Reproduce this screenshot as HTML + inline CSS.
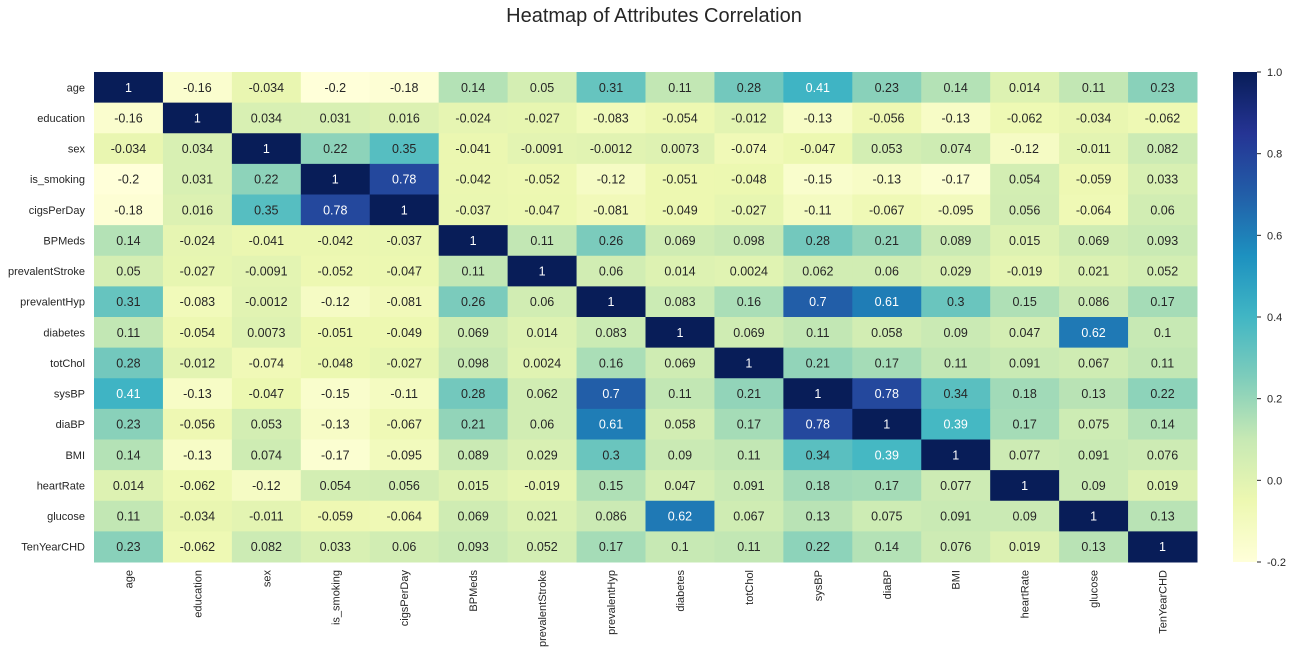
<!DOCTYPE html>
<html><head><meta charset="utf-8"><style>
body{margin:0;background:#fff;font-family:"Liberation Sans",sans-serif;}
svg text{font-family:"Liberation Sans",sans-serif;}
</style></head><body>
<svg id="chart" width="1295" height="655" xmlns="http://www.w3.org/2000/svg">
<text x="654" y="22" font-size="20" text-anchor="middle" fill="#262626">Heatmap of Attributes Correlation</text>
<g id="cells"></g>
<g id="ylab"></g>
<g id="xlab"></g>
<defs><linearGradient id="cg" x1="0" y1="1" x2="0" y2="0"></linearGradient></defs>
<rect x="1233" y="72" width="24" height="490" fill="url(#cg)"/>
<g id="cbticks"></g>
</svg>
<script>
const labels=["age","education","sex","is_smoking","cigsPerDay","BPMeds","prevalentStroke","prevalentHyp","diabetes","totChol","sysBP","diaBP","BMI","heartRate","glucose","TenYearCHD"];
const row0=[1,-0.16,-0.034,-0.2,-0.18,0.14,0.05,0.31,0.11,0.28,0.41,0.23,0.14,0.014,0.11,0.23];
const row1=[-0.16,1,0.034,0.031,0.016,-0.024,-0.027,-0.083,-0.054,-0.012,-0.13,-0.056,-0.13,-0.062,-0.034,-0.062];
const row2=[-0.034,0.034,1,0.22,0.35,-0.041,-0.0091,-0.0012,0.0073,-0.074,-0.047,0.053,0.074,-0.12,-0.011,0.082];
const row3=[-0.2,0.031,0.22,1,0.78,-0.042,-0.052,-0.12,-0.051,-0.048,-0.15,-0.13,-0.17,0.054,-0.059,0.033];
const row4=[-0.18,0.016,0.35,0.78,1,-0.037,-0.047,-0.081,-0.049,-0.027,-0.11,-0.067,-0.095,0.056,-0.064,0.06];
const row5=[0.14,-0.024,-0.041,-0.042,-0.037,1,0.11,0.26,0.069,0.098,0.28,0.21,0.089,0.015,0.069,0.093];
const row6=[0.05,-0.027,-0.0091,-0.052,-0.047,0.11,1,0.06,0.014,0.0024,0.062,0.06,0.029,-0.019,0.021,0.052];
const row7=[0.31,-0.083,-0.0012,-0.12,-0.081,0.26,0.06,1,0.083,0.16,0.7,0.61,0.3,0.15,0.086,0.17];
const row8=[0.11,-0.054,0.0073,-0.051,-0.049,0.069,0.014,0.083,1,0.069,0.11,0.058,0.09,0.047,0.62,0.1];
const row9=[0.28,-0.012,-0.074,-0.048,-0.027,0.098,0.0024,0.16,0.069,1,0.21,0.17,0.11,0.091,0.067,0.11];
const row10=[0.41,-0.13,-0.047,-0.15,-0.11,0.28,0.062,0.7,0.11,0.21,1,0.78,0.34,0.18,0.13,0.22];
const row11=[0.23,-0.056,0.053,-0.13,-0.067,0.21,0.06,0.61,0.058,0.17,0.78,1,0.39,0.17,0.075,0.14];
const row12=[0.14,-0.13,0.074,-0.17,-0.095,0.089,0.029,0.3,0.09,0.11,0.34,0.39,1,0.077,0.091,0.076];
const row13=[0.014,-0.062,-0.12,0.054,0.056,0.015,-0.019,0.15,0.047,0.091,0.18,0.17,0.077,1,0.09,0.019];
const row14=[0.11,-0.034,-0.011,-0.059,-0.064,0.069,0.021,0.086,0.62,0.067,0.13,0.075,0.091,0.09,1,0.13];
const row15=[0.23,-0.062,0.082,0.033,0.06,0.093,0.052,0.17,0.1,0.11,0.22,0.14,0.076,0.019,0.13,1];
const matrix=[row0,row1,row2,row3,row4,row5,row6,row7,row8,row9,row10,row11,row12,row13,row14,row15];
const cbTicks=[-0.2,0,0.2,0.4,0.6,0.8,1.0];
const vmin=-0.2,vmax=1.0;
const X0=94,X1=1197,Y0=72,Y1=562;
const stops=["#ffffd9","#edf8b1","#c7e9b4","#7fcdbb","#41b6c4","#1d91c0","#225ea8","#253494","#081d58"];
const NS="http://www.w3.org/2000/svg";
function hex(h){return [1,3,5].map(i=>parseInt(h.substr(i,2),16));}
function cmap(v){let t=Math.max(0,Math.min(1,(v-vmin)/(vmax-vmin)))*(stops.length-1);let i=Math.min(stops.length-2,Math.floor(t)),f=t-i;const a=hex(stops[i]),b=hex(stops[i+1]);return a.map((c,k)=>Math.round(c+(b[k]-c)*f));}
function lum(c){const l=c.map(x=>{x/=255;return x<=0.03928?x/12.92:Math.pow((x+0.055)/1.055,2.4)});return 0.2126*l[0]+0.7152*l[1]+0.0722*l[2];}
const n=labels.length,cw=(X1-X0)/n,ch=(Y1-Y0)/n;
const xs=i=>X0+i*cw, ys=j=>Y0+j*ch;
const cells=document.getElementById('cells');
matrix.forEach((row,j)=>row.forEach((v,i)=>{
 const c=cmap(v);
 const r=document.createElementNS(NS,'rect');
 r.setAttribute('x',xs(i));r.setAttribute('y',ys(j));r.setAttribute('width',cw+0.5);r.setAttribute('height',ch+0.5);
 r.setAttribute('fill',`rgb(${c})`);
 
 
 cells.appendChild(r);
 const t=document.createElementNS(NS,'text');
 t.setAttribute('x',xs(i)+cw/2);t.setAttribute('y',ys(j)+ch/2+4.5);t.setAttribute('text-anchor','middle');t.setAttribute('font-size','12.5');
 t.setAttribute('fill',lum(c)>0.408?'#262626':'#ffffff');
 t.textContent=String(v);
 
 
 cells.appendChild(t);
}));
const yl=document.getElementById('ylab'),xl=document.getElementById('xlab');
labels.forEach((l,i)=>{
 const t=document.createElementNS(NS,'text');
 t.setAttribute('x',85);t.setAttribute('y',ys(i)+ch/2+4);t.setAttribute('text-anchor','end');t.setAttribute('font-size','11');t.setAttribute('fill','#262626');
 t.textContent=l;
 
 
 yl.appendChild(t);
 const u=document.createElementNS(NS,'text');
 const cx=xs(i)+cw/2+4;
 u.setAttribute('transform',`translate(${cx},570) rotate(-90)`);u.setAttribute('text-anchor','end');u.setAttribute('font-size','11');u.setAttribute('fill','#262626');
 u.textContent=l;
 
 
 xl.appendChild(u);
});
const g=document.getElementById('cg');
stops.forEach((s,i)=>{const st=document.createElementNS(NS,'stop');st.setAttribute('offset',i/(stops.length-1));st.setAttribute('stop-color',s);g.appendChild(st);});
const cb=document.getElementById('cbticks');
cbTicks.forEach(v=>{
 const y=Y1-(v-vmin)/(vmax-vmin)*(Y1-Y0);
 const ln=document.createElementNS(NS,'line');
 ln.setAttribute('x1',1257);ln.setAttribute('x2',1261);ln.setAttribute('y1',y);ln.setAttribute('y2',y);ln.setAttribute('stroke','#262626');
 
 
 cb.appendChild(ln);
 const t=document.createElementNS(NS,'text');
 t.setAttribute('x',1267);t.setAttribute('y',y+4);t.setAttribute('font-size','11');t.setAttribute('fill','#262626');
 t.textContent=v.toFixed(1);
 
 
 cb.appendChild(t);
});
</script>
</body></html>
